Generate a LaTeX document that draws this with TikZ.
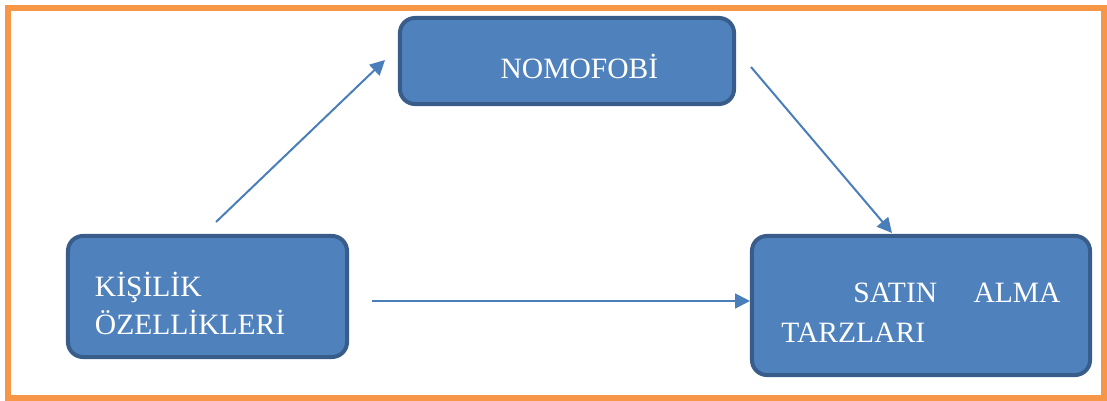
\documentclass[tikz,border=0pt]{standalone}
\usepackage{fontspec}
\setmainfont{Liberation Serif}
\usetikzlibrary{arrows.meta}
\definecolor{boxfill}{HTML}{4F81BD}
\definecolor{boxline}{HTML}{385D8A}
\definecolor{arrowblue}{HTML}{4A7EBB}
\definecolor{frameorange}{HTML}{F79646}

\begin{document}
\begin{tikzpicture}[x=0.025cm,y=-0.025cm,
  box/.style={draw=boxline,fill=boxfill,line width=0.1cm,rounded corners=0.375cm,text=white},
  link/.style={draw=arrowblue,line width=0.05cm,-{Triangle[length=0.37cm,width=0.37cm]}}]
\useasboundingbox (0,0) rectangle (1107,401);
\draw [frameorange,line width=0.15cm] (8,8) rectangle (1104,398);

\node [box,minimum width=8.35cm,minimum height=2.15cm,text height=0.95cm,text depth=0.1cm,
  font=\fontsize{21}{27}\selectfont] (nomofobi) at (567,61) {\hspace*{0.62cm}NOMOFOBİ};
\node [box,minimum width=6.975cm,minimum height=3.025cm,text width=5.625cm,align=left,
  text height=0.5cm,text depth=0.5cm,font=\fontsize{21}{27}\selectfont] (kisilik) at (207.5,296.5)
  {KİŞİLİK\\ÖZELLİKLERİ};
\node [box,minimum width=8.45cm,minimum height=3.475cm,text width=6.975cm,align=left,
  text height=0.425cm,text depth=0.6cm,font=\fontsize{21}{28.5}\selectfont] (satin) at (921,305.5)
  {\hspace*{1.8cm}SATIN\hfill ALMA\\TARZLARI};

\coordinate (k-out) at (216,222);
\coordinate (n-in) at (385,60);
\coordinate (n-out) at (751,67);
\coordinate (s-in) at (892,233);
\coordinate (k-right) at (372,301);

\draw [link] (k-out) -- (n-in);
\draw [link] (n-out) -- (s-in);
\draw [link] (k-right) -- (k-right -| satin.west);
\end{tikzpicture}
\end{document}
